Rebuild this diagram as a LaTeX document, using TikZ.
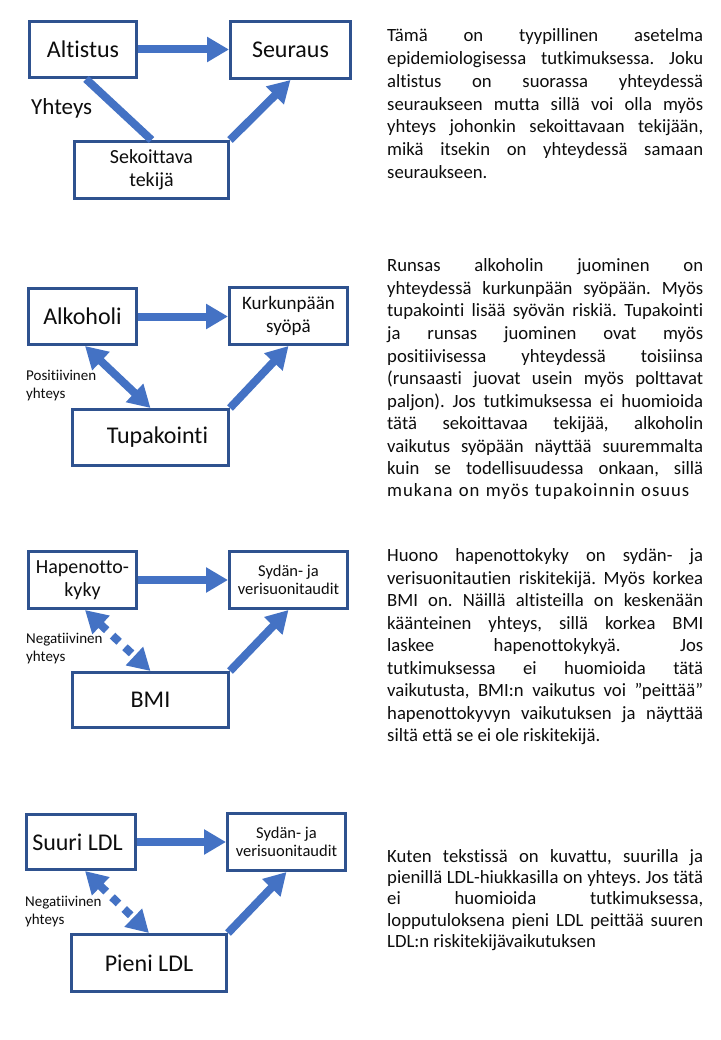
\documentclass[tikz,border=0pt]{standalone}
\usepackage{fontspec}
\setmainfont{Carlito}[Ligatures={NoCommon,NoContextual}]
\usetikzlibrary{arrows.meta}
\definecolor{boxc}{HTML}{2F528F}
\definecolor{arrc}{HTML}{4472C4}
\definecolor{txtc}{HTML}{0D0D0D}
\newcommand\fsz[2]{\fontsize{#1}{#2}\selectfont}
\newcommand\jl[1]{\hbox to 316pt{\spaceskip=0.226em plus 1fil minus 0.06em\relax #1}}
\newcommand\lastl[1]{\hbox{#1}}
\frenchspacing
\tikzset{
  box/.style={draw=boxc, line width=3pt, inner sep=0pt, align=center, text=txtc},
  lbl/.style={inner sep=0pt, text=txtc},
  para/.style={anchor=base west, inner sep=0pt, text=txtc, font=\fsz{18.7}{22.5}},
  arr/.style={draw=arrc, line width=8pt, -{Triangle[width=24pt,length=22pt]}},
  dbl/.style={draw=arrc, line width=8pt, {Triangle[width=24pt,length=22pt]}-{Triangle[width=24pt,length=22pt]}},
  dbldash/.style={dbl, dash pattern=on 9pt off 8pt},
  link/.style={draw=arrc, line width=8pt},
}
\begin{document}
\begin{tikzpicture}[x=1pt,y=-1pt]
\path[use as bounding box, fill=white] (0,0) rectangle (720,1040);

% ---------- Panel 1 ----------
\node[box, minimum width=107pt, minimum height=56pt, font=\fsz{24}{29}] (alt) at (83,49.5) {Altistus};
\node[box, minimum width=120pt, minimum height=57pt, font=\fsz{24}{29}] (seu) at (290.5,50) {Seuraus};
\node[box, minimum width=154pt, minimum height=57pt, font=\fsz{20}{23}] (sek) at (151.5,170) {Sekoittava\\tekijä};
\node[lbl, anchor=west, font=\fsz{23}{28}] (yht) at (31,108) {Yhteys};
\draw[arr] (alt.east) -- (alt.east -| seu.west);
\draw[link] ([xshift=3pt]alt.south) -- (sek.north);
\draw[arr] (sek.north east) -- (seu.south);

\node[para] (t1) at (387,41.7) {\vtop{\baselineskip=22.8pt
\jl{Tämä on tyypillinen asetelma}
\jl{epidemiologisessa tutkimuksessa. Joku}
\jl{altistus on suorassa yhteydessä}
\jl{seuraukseen mutta sillä voi olla myös}
\jl{yhteys johonkin sekoittavaan tekijään,}
\jl{mikä itsekin on yhteydessä samaan}
\lastl{seuraukseen.}}};

% ---------- Panel 2 ----------
\node[box, minimum width=108pt, minimum height=56pt, font=\fsz{24}{29}] (alk) at (82.5,316.5) {Alkoholi};
\node[box, minimum width=118pt, minimum height=57pt, font=\fsz{19}{22.7}] (kur) at (288.5,316) {Kurkunpään\\syöpä};
\node[box, minimum width=156pt, minimum height=56pt, font=\fsz{24}{29}] (tup) at (150.5,437.5) {\hspace*{14pt}Tupakointi};
\node[lbl, anchor=west, align=left, font=\fsz{15}{18}] (pos) at (26,386) {Positiivinen\\yhteys};
\draw[arr] (alk.east) -- (alk.east -| kur.west);
\draw[dbl] ([xshift=2.5pt]alk.south) -- (tup.north);
\draw[arr] (tup.north east) -- (kur.south);

\node[para] (t2) at (387,272) {\vtop{\baselineskip=22.5pt
\jl{Runsas alkoholin juominen on}
\jl{yhteydessä kurkunpään syöpään. Myös}
\jl{tupakointi lisää syövän riskiä. Tupakointi}
\jl{ja runsas juominen ovat myös}
\jl{positiivisessa yhteydessä toisiinsa}
\jl{(runsaasti juovat usein myös polttavat}
\jl{paljon). Jos tutkimuksessa ei huomioida}
\jl{tätä sekoittavaa tekijää, alkoholin}
\jl{vaikutus syöpään näyttää suuremmalta}
\jl{kuin se todellisuudessa onkaan, sillä}
\hbox to 302pt{\addfontfeature{LetterSpace=5}\spaceskip=0.12em plus 1fil\relax mukana on myös tupakoinnin osuus}}};

% ---------- Panel 3 ----------
\node[box, minimum width=108pt, minimum height=57pt, font=\fsz{20}{23.3}] (hap) at (82.5,580) {Hapenotto-\\kyky};
\node[box, minimum width=118pt, minimum height=57pt, font=\fsz{16.5}{18.5}] (syd) at (288.5,580) {Sydän- ja\\verisuonitaudit};
\node[box, minimum width=156pt, minimum height=55pt, font=\fsz{24}{29}] (bmi) at (150.5,700) {BMI};
\node[lbl, anchor=west, align=left, font=\fsz{15}{18}] (neg1) at (26,649) {Negatiivinen\\yhteys};
\draw[arr] (hap.east) -- (hap.east -| syd.west);
\draw[dbldash] ([xshift=2.5pt]hap.south) -- (bmi.north);
\draw[arr] (bmi.north east) -- (syd.south);

\node[para] (t3) at (387,561.5) {\vtop{\baselineskip=22.5pt
\jl{Huono hapenottokyky on sydän- ja}
\jl{verisuonitautien riskitekijä. Myös korkea}
\jl{BMI on. Näillä altisteilla on keskenään}
\jl{käänteinen yhteys, sillä korkea BMI}
\jl{laskee hapenottokykyä. Jos}
\jl{tutkimuksessa ei huomioida tätä}
\jl{vaikutusta, BMI:n vaikutus voi ”peittää”}
\jl{hapenottokyvyn vaikutuksen ja näyttää}
\lastl{siltä että se ei ole riskitekijä.}}};

% ---------- Panel 4 ----------
\node[box, minimum width=109pt, minimum height=55pt, font=\fsz{24}{29}] (sul) at (81,842) {Suuri LDL\hspace*{7pt}};
\node[box, minimum width=118pt, minimum height=57pt, font=\fsz{16.5}{18.5}] (syd2) at (286.5,842) {Sydän- ja\\verisuonitaudit};
\node[box, minimum width=155pt, minimum height=57pt, font=\fsz{24}{29}] (pie) at (149,963) {Pieni LDL};
\node[lbl, anchor=west, align=left, font=\fsz{15}{18}] (neg2) at (25,911.5) {Negatiivinen\\yhteys};
\draw[arr] (sul.east) -- (sul.east -| syd2.west);
\draw[dbldash] ([xshift=4pt]sul.south) -- (pie.north);
\draw[arr] (pie.north east) -- (syd2.south);

\node[para] (t4) at (387,862) {\vtop{\baselineskip=21.4pt
\jl{Kuten tekstissä on kuvattu, suurilla ja}
\jl{pienillä LDL-hiukkasilla on yhteys. Jos tätä}
\jl{ei huomioida tutkimuksessa,}
\jl{lopputuloksena pieni LDL peittää suuren}
\lastl{LDL:n riskitekijävaikutuksen}}};
\end{tikzpicture}
\end{document}
